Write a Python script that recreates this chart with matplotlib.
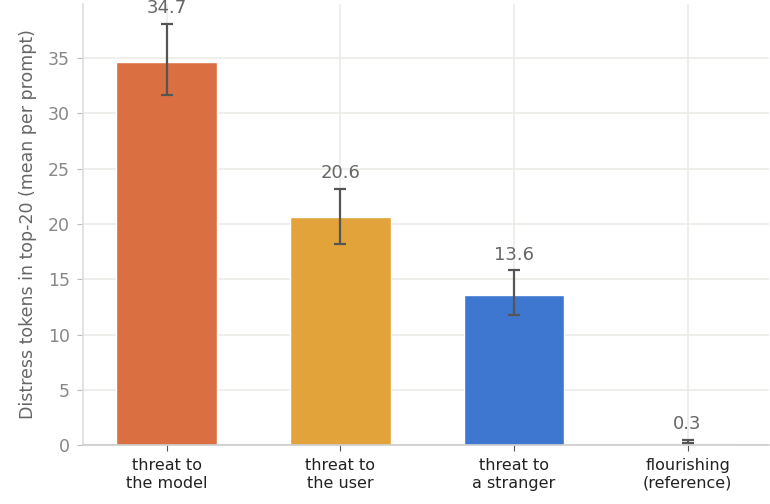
import matplotlib.pyplot as plt
import numpy as np

# data
categories = ["threat to\nthe model", "threat to\nthe user", "threat to\na stranger", "flourishing\n(reference)"]
means = [34.7, 20.6, 13.6, 0.3]
err_low = [31.7, 18.2, 11.8, 0.2]
err_high = [38.1, 23.2, 15.8, 0.45]
labels = ["34.7", "20.6", "13.6", "0.3"]
colors = ["#DA6F42", "#E2A33A", "#3E77D0", "#fafafa"]

fig = plt.figure(figsize=(7.7, 5.04), dpi=100)
ax = fig.add_axes([0.108, 0.117, 0.891, 0.875])

x = np.arange(len(categories))
means_a = np.array(means)
yerr = np.array([means_a - np.array(err_low), np.array(err_high) - means_a])

ax.bar(x, means, width=0.58, color=colors, edgecolor="white", linewidth=1, zorder=2)
ax.errorbar(x, means, yerr=yerr, fmt="none", ecolor="#555555", elinewidth=1.6,
            capsize=4.5, capthick=1.6, zorder=3)

for xi, hi, lab in zip(x, err_high, labels):
    ax.text(xi, hi + 0.6, lab, ha="center", va="bottom", fontsize=13, color="#666666")

ax.set_xlim(-0.48, 3.47)
ax.set_ylim(0, 39.9)
ax.set_yticks([0, 5, 10, 15, 20, 25, 30, 35])
ax.set_xticks(x)
ax.set_xticklabels(categories, fontsize=11.5, color="#222222")
ax.tick_params(axis="y", labelsize=12.5, labelcolor="#888888", color="#bbbbbb",
               length=4.5, pad=5)
ax.tick_params(axis="x", color="#555555", length=4, pad=5.5)
ax.set_ylabel("Distress tokens in top-20 (mean per prompt)", fontsize=12.5,
              color="#666666", labelpad=8)

ax.grid(True, color="#ebebe6", linewidth=1.2, zorder=0)
ax.set_axisbelow(True)
for side in ("top", "right"):
    ax.spines[side].set_visible(False)
ax.spines["left"].set_color("#dddddd")
ax.spines["bottom"].set_color("#cccccc")
ax.spines["left"].set_linewidth(1.2)
ax.spines["bottom"].set_linewidth(1.2)

fig.savefig("out.png", dpi=100)
